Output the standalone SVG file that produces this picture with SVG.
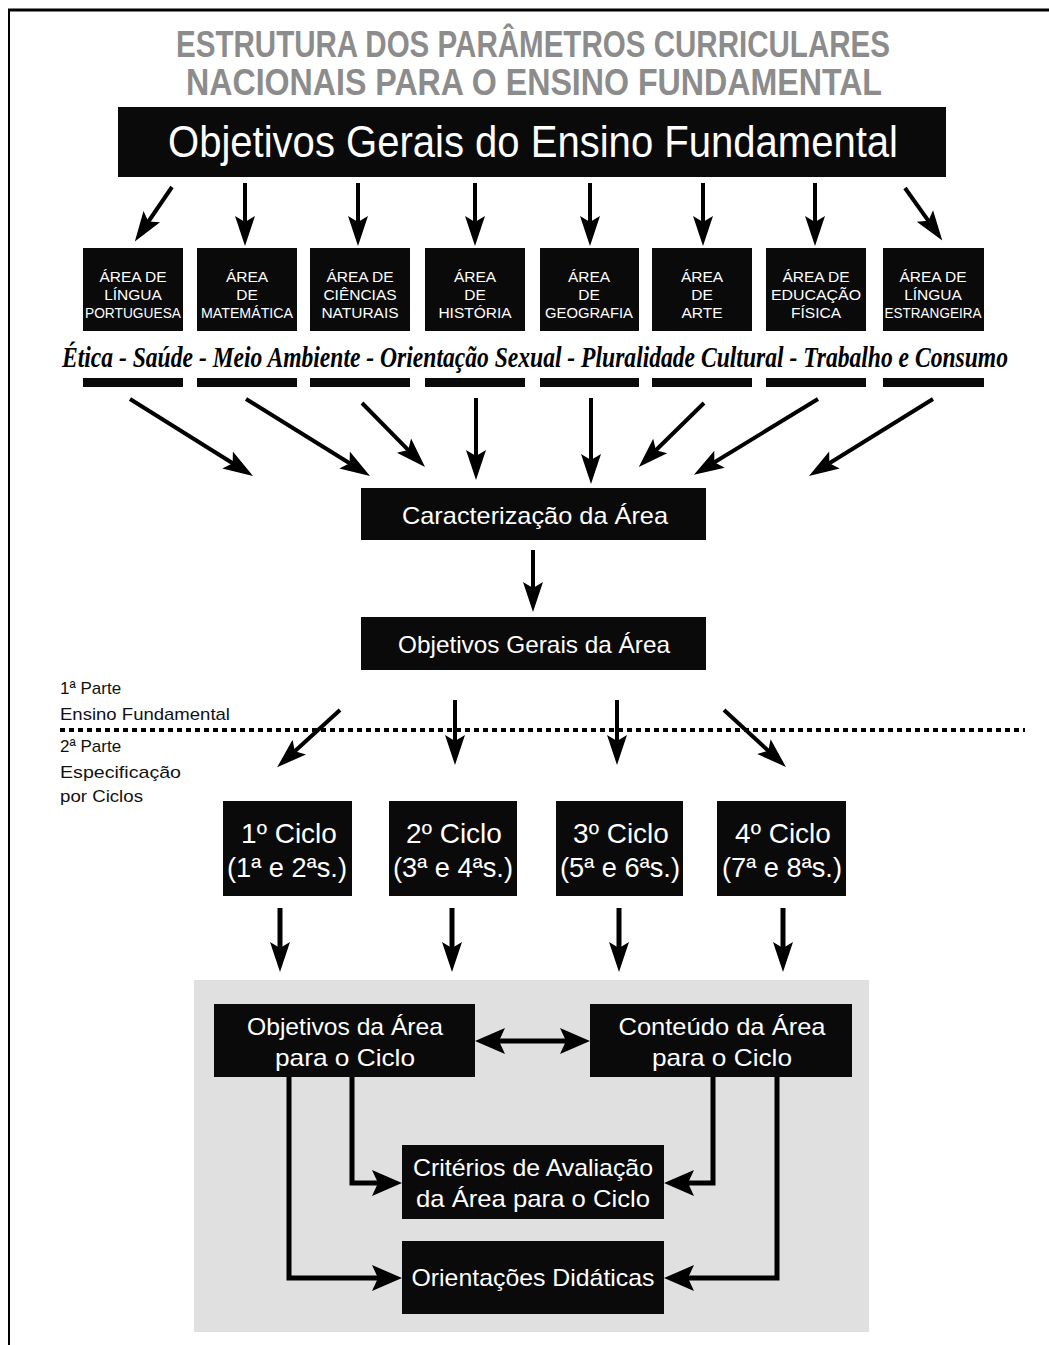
<svg xmlns="http://www.w3.org/2000/svg" width="1049" height="1345" viewBox="0 0 1049 1345">
<defs>
<style>
.box{fill:#0a0a0a}
.t{font-family:"Liberation Sans",Arial,sans-serif;fill:#fff;text-anchor:middle}
.a{font-size:15.5px}
.m{font-size:24px}
.c{font-size:28px}
.lbl{font-family:"Liberation Sans",Arial,sans-serif;font-size:17px;fill:#111}
.ttl{font-family:"Liberation Sans",Arial,sans-serif;font-weight:bold;font-size:36px;fill:#8c8c8c;text-anchor:middle}
.sc{font-family:"Liberation Serif",serif;font-style:italic;font-weight:bold;font-size:23px;fill:#000}
.ar{stroke:#000;stroke-width:4;fill:none}
.ar5{stroke:#000;stroke-width:5;fill:none}
</style>
<marker id="h" markerUnits="userSpaceOnUse" viewBox="0 -11 32 22" refX="15" refY="0" markerWidth="32" markerHeight="22" orient="auto">
<path d="M0,-10 L30,0 L0,10 L6,0 Z" fill="#000"/>
</marker>
<marker id="hb" markerUnits="userSpaceOnUse" viewBox="0 -14 32 28" refX="15" refY="0" markerWidth="32" markerHeight="28" orient="auto-start-reverse">
<path d="M0,-13 L30,0 L0,13 L6,0 Z" fill="#000"/>
</marker>
</defs>
<rect width="1049" height="1345" fill="#fff"/>
<line x1="8" y1="10" x2="1049" y2="10" stroke="#000" stroke-width="3"/>
<line x1="9" y1="10" x2="9" y2="1345" stroke="#000" stroke-width="2"/>

<g id="title">
<text class="ttl" x="533" y="57" textLength="714" lengthAdjust="spacingAndGlyphs">ESTRUTURA DOS PARÂMETROS CURRICULARES</text>
<text class="ttl" x="534" y="95" textLength="696" lengthAdjust="spacingAndGlyphs">NACIONAIS PARA O ENSINO FUNDAMENTAL</text>
</g>

<g id="objetivos-gerais-ef">
<rect class="box" x="118" y="107" width="828" height="70"/>
<text class="t" x="533" y="157" font-size="44" textLength="730" lengthAdjust="spacingAndGlyphs">Objetivos Gerais do Ensino Fundamental</text>
</g>

<g id="area-lp"><rect class="box" x="83" y="248" width="100" height="83"/>
<text class="t a" x="133" y="282">ÁREA DE</text><text class="t a" x="133" y="300">LÍNGUA</text><text class="t a" x="133" y="318" textLength="96" lengthAdjust="spacingAndGlyphs">PORTUGUESA</text></g>
<g id="area-mat"><rect class="box" x="197" y="248" width="100" height="83"/>
<text class="t a" x="247" y="282">ÁREA</text><text class="t a" x="247" y="300">DE</text><text class="t a" x="247" y="318" textLength="92" lengthAdjust="spacingAndGlyphs">MATEMÁTICA</text></g>
<g id="area-cn"><rect class="box" x="310" y="248" width="100" height="83"/>
<text class="t a" x="360" y="282">ÁREA DE</text><text class="t a" x="360" y="300">CIÊNCIAS</text><text class="t a" x="360" y="318">NATURAIS</text></g>
<g id="area-hist"><rect class="box" x="425" y="248" width="100" height="83"/>
<text class="t a" x="475" y="282">ÁREA</text><text class="t a" x="475" y="300">DE</text><text class="t a" x="475" y="318">HISTÓRIA</text></g>
<g id="area-geo"><rect class="box" x="540" y="248" width="99" height="83"/>
<text class="t a" x="589" y="282">ÁREA</text><text class="t a" x="589" y="300">DE</text><text class="t a" x="589" y="318" textLength="88" lengthAdjust="spacingAndGlyphs">GEOGRAFIA</text></g>
<g id="area-arte"><rect class="box" x="652" y="248" width="100" height="83"/>
<text class="t a" x="702" y="282">ÁREA</text><text class="t a" x="702" y="300">DE</text><text class="t a" x="702" y="318">ARTE</text></g>
<g id="area-ef"><rect class="box" x="766" y="248" width="100" height="83"/>
<text class="t a" x="816" y="282">ÁREA DE</text><text class="t a" x="816" y="300" textLength="90" lengthAdjust="spacingAndGlyphs">EDUCAÇÃO</text><text class="t a" x="816" y="318">FÍSICA</text></g>
<g id="area-le"><rect class="box" x="883" y="248" width="101" height="83"/>
<text class="t a" x="933" y="282">ÁREA DE</text><text class="t a" x="933" y="300">LÍNGUA</text><text class="t a" x="933" y="318" textLength="97" lengthAdjust="spacingAndGlyphs">ESTRANGEIRA</text></g>

<g id="temas-transversais">
<g transform="translate(62,367) scale(1,1.3)">
<text class="sc" x="0" y="0" textLength="946" lengthAdjust="spacingAndGlyphs">Ética - Saúde - Meio Ambiente - Orientação Sexual - Pluralidade Cultural - Trabalho e Consumo</text>
</g>
<rect class="box" x="83" y="378" width="100" height="9"/>
<rect class="box" x="197" y="378" width="100" height="9"/>
<rect class="box" x="310" y="378" width="100" height="9"/>
<rect class="box" x="425" y="378" width="100" height="9"/>
<rect class="box" x="540" y="378" width="99" height="9"/>
<rect class="box" x="652" y="378" width="100" height="9"/>
<rect class="box" x="766" y="378" width="100" height="9"/>
<rect class="box" x="883" y="378" width="101" height="9"/>
</g>

<g id="caracterizacao">
<rect class="box" x="361" y="488" width="345" height="52"/>
<text class="t m" x="535" y="524" textLength="266" lengthAdjust="spacingAndGlyphs">Caracterização da Área</text>
</g>
<g id="objetivos-gerais-area">
<rect class="box" x="361" y="617" width="345" height="53"/>
<text class="t m" x="534" y="653" textLength="272" lengthAdjust="spacingAndGlyphs">Objetivos Gerais da Área</text>
</g>

<g id="partes">
<text class="lbl" x="60" y="694">1ª Parte</text>
<text class="lbl" x="60" y="720" textLength="170" lengthAdjust="spacingAndGlyphs">Ensino Fundamental</text>
<line x1="60" y1="730" x2="1025" y2="730" stroke="#000" stroke-width="4" stroke-dasharray="5 4"/>
<text class="lbl" x="60" y="752">2ª Parte</text>
<text class="lbl" x="60" y="778" textLength="121" lengthAdjust="spacingAndGlyphs">Especificação</text>
<text class="lbl" x="60" y="802" textLength="83" lengthAdjust="spacingAndGlyphs">por Ciclos</text>
</g>

<g id="ciclo1"><rect class="box" x="223" y="801" width="129" height="95"/>
<text class="t c" x="289" y="843">1º Ciclo</text><text class="t c" x="287" y="877" textLength="120" lengthAdjust="spacingAndGlyphs">(1ª e 2ªs.)</text></g>
<g id="ciclo2"><rect class="box" x="389" y="801" width="128" height="95"/>
<text class="t c" x="454" y="843">2º Ciclo</text><text class="t c" x="453" y="877" textLength="120" lengthAdjust="spacingAndGlyphs">(3ª e 4ªs.)</text></g>
<g id="ciclo3"><rect class="box" x="556" y="801" width="127" height="95"/>
<text class="t c" x="621" y="843">3º Ciclo</text><text class="t c" x="620" y="877" textLength="120" lengthAdjust="spacingAndGlyphs">(5ª e 6ªs.)</text></g>
<g id="ciclo4"><rect class="box" x="717" y="801" width="129" height="95"/>
<text class="t c" x="783" y="843">4º Ciclo</text><text class="t c" x="782" y="877" textLength="120" lengthAdjust="spacingAndGlyphs">(7ª e 8ªs.)</text></g>

<rect x="194" y="980" width="675" height="352" fill="#e0e0e0"/>

<g id="objetivos-ciclo"><rect class="box" x="214" y="1004" width="261" height="73"/>
<text class="t m" x="345" y="1035" textLength="196" lengthAdjust="spacingAndGlyphs">Objetivos da Área</text><text class="t m" x="345" y="1066" textLength="140" lengthAdjust="spacingAndGlyphs">para o Ciclo</text></g>
<g id="conteudo-ciclo"><rect class="box" x="590" y="1004" width="262" height="73"/>
<text class="t m" x="722" y="1035" textLength="207" lengthAdjust="spacingAndGlyphs">Conteúdo da Área</text><text class="t m" x="722" y="1066" textLength="140" lengthAdjust="spacingAndGlyphs">para o Ciclo</text></g>
<g id="criterios"><rect class="box" x="402" y="1145" width="262" height="74"/>
<text class="t m" x="533" y="1176" textLength="240" lengthAdjust="spacingAndGlyphs">Critérios de Avaliação</text><text class="t m" x="533" y="1207" textLength="234" lengthAdjust="spacingAndGlyphs">da Área para o Ciclo</text></g>
<g id="orientacoes"><rect class="box" x="402" y="1241" width="262" height="73"/>
<text class="t m" x="533" y="1286" textLength="243" lengthAdjust="spacingAndGlyphs">Orientações Didáticas</text></g>

<g id="connectors">
<line class="ar" x1="172" y1="187" x2="143.3" y2="229" marker-end="url(#h)"/>
<line class="ar" x1="245" y1="183" x2="245" y2="231" marker-end="url(#h)"/>
<line class="ar" x1="358" y1="183" x2="358" y2="231" marker-end="url(#h)"/>
<line class="ar" x1="475" y1="183" x2="475" y2="231" marker-end="url(#h)"/>
<line class="ar" x1="590" y1="183" x2="590" y2="231" marker-end="url(#h)"/>
<line class="ar" x1="703" y1="183" x2="703" y2="231" marker-end="url(#h)"/>
<line class="ar" x1="815" y1="183" x2="815" y2="231" marker-end="url(#h)"/>
<line class="ar" x1="905" y1="188" x2="933.6" y2="228.2" marker-end="url(#h)"/>

<line class="ar" x1="130" y1="399" x2="240.3" y2="468" marker-end="url(#h)"/>
<line class="ar" x1="246" y1="399" x2="357.3" y2="468" marker-end="url(#h)"/>
<line class="ar" x1="362" y1="403" x2="414.5" y2="456.3" marker-end="url(#h)"/>
<line class="ar" x1="476" y1="398" x2="476" y2="465" marker-end="url(#h)"/>
<line class="ar" x1="591" y1="398" x2="591" y2="469" marker-end="url(#h)"/>
<line class="ar" x1="704" y1="403" x2="649.5" y2="456.5" marker-end="url(#h)"/>
<line class="ar" x1="818" y1="399" x2="706.7" y2="467" marker-end="url(#h)"/>
<line class="ar" x1="933" y1="399" x2="821.7" y2="468" marker-end="url(#h)"/>

<line class="ar" x1="533" y1="550" x2="533" y2="597" marker-end="url(#h)"/>

<line class="ar" x1="340" y1="710" x2="288.2" y2="757.2" marker-end="url(#h)"/>
<line class="ar" x1="455" y1="700" x2="455" y2="750" marker-end="url(#h)"/>
<line class="ar" x1="617" y1="700" x2="617" y2="750" marker-end="url(#h)"/>
<line class="ar" x1="724" y1="710" x2="774.9" y2="756.8" marker-end="url(#h)"/>

<line class="ar5" x1="280" y1="908" x2="280" y2="957" marker-end="url(#h)"/>
<line class="ar5" x1="452" y1="908" x2="452" y2="957" marker-end="url(#h)"/>
<line class="ar5" x1="619" y1="908" x2="619" y2="957" marker-end="url(#h)"/>
<line class="ar5" x1="783" y1="908" x2="783" y2="957" marker-end="url(#h)"/>

<line class="ar5" x1="490" y1="1041" x2="575" y2="1041" marker-start="url(#hb)" marker-end="url(#hb)"/>
<path class="ar5" d="M289,1077 V1278 H387" marker-end="url(#hb)"/>
<path class="ar5" d="M352,1077 V1183 H387" marker-end="url(#hb)"/>
<path class="ar5" d="M713,1077 V1183 H679" marker-end="url(#hb)"/>
<path class="ar5" d="M777,1077 V1278 H679" marker-end="url(#hb)"/>
</g>
</svg>
